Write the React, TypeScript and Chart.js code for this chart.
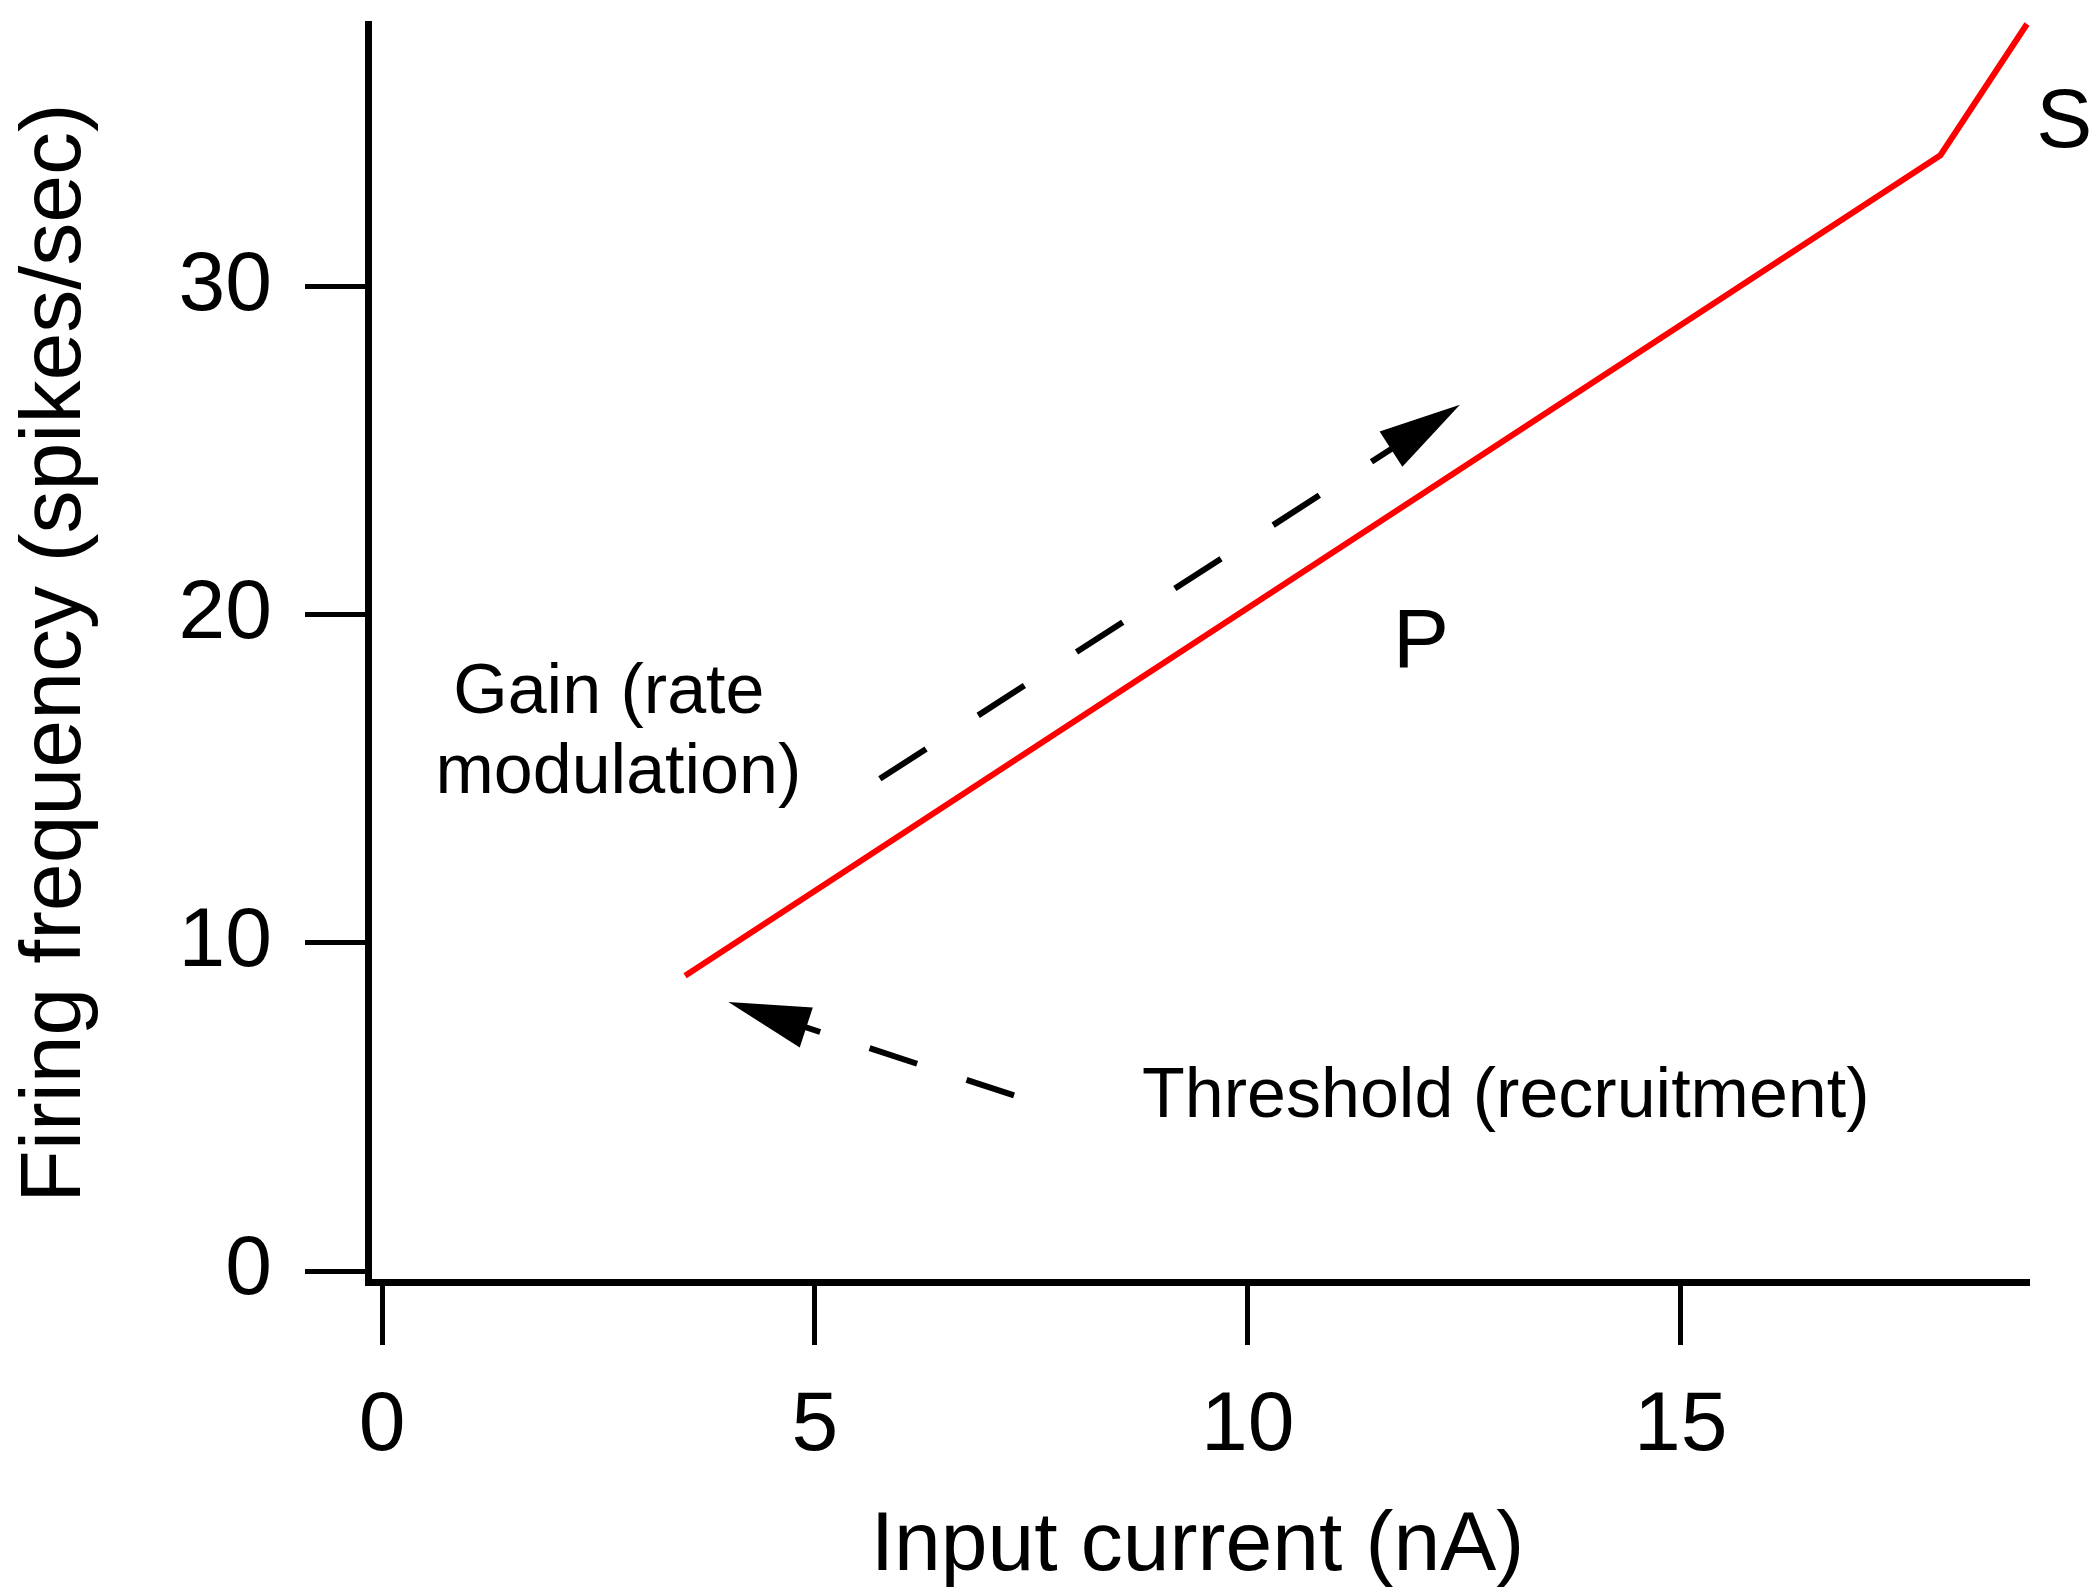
import React, { useEffect, useRef } from "react";
import { Chart, registerables } from "chart.js";

Chart.register(...registerables);

// ---- data ----
const inputCurrent = [3.5, 18, 19];
const firingFrequency = [9, 34, 38];

const gainArrowX = [5.75, 12.45];
const gainArrowY = [15.0, 26.4];
const thresholdArrowX = [7.3, 4.0];
const thresholdArrowY = [5.35, 8.2];

const xTickValues = [0, 5, 10, 15];
const yTickValues = [0, 10, 20, 30];

const xAxisTitle = "Input current (nA)";
const yAxisTitle = "Firing frequency (spikes/sec)";
const gainLabel = ["Gain (rate", "modulation)"];
const thresholdLabel = "Threshold (recruitment)";
const labelP = "P";
const labelS = "S";

const FONT = '"Liberation Sans", Arial, sans-serif';

const toPoints = (xs: number[], ys: number[]) => xs.map((x, i) => ({ x, y: ys[i] }));

const annotationPlugin = {
  id: "annotations",
  afterDatasetsDraw(chart: any) {
    const { ctx, scales } = chart;
    const xs = scales.x;
    const ys = scales.y;
    ctx.save();
    // arrowheads
    chart.data.datasets.forEach((ds: any, i: number) => {
      if (!ds.arrowHead) return;
      const pts = chart.getDatasetMeta(i).data;
      const a = pts[pts.length - 2];
      const b = pts[pts.length - 1];
      const dx = b.x - a.x;
      const dy = b.y - a.y;
      const len = Math.hypot(dx, dy);
      const ux = dx / len;
      const uy = dy / len;
      const L = 82;
      const W = 21;
      const bx = b.x - ux * L;
      const by = b.y - uy * L;
      ctx.beginPath();
      ctx.moveTo(b.x, b.y);
      ctx.lineTo(bx - uy * W, by + ux * W);
      ctx.lineTo(bx + uy * W, by - ux * W);
      ctx.closePath();
      ctx.fillStyle = "#000";
      ctx.fill();
    });
    // texts
    ctx.fillStyle = "#000";
    ctx.textAlign = "center";
    ctx.textBaseline = "middle";
    ctx.font = `70px ${FONT}`;
    ctx.fillText(gainLabel[0], xs.getPixelForValue(2.62), ys.getPixelForValue(17.58));
    ctx.fillText(gainLabel[1], xs.getPixelForValue(2.73), ys.getPixelForValue(15.17));
    ctx.fillText(thresholdLabel, xs.getPixelForValue(12.98), ys.getPixelForValue(5.27));
    ctx.font = `84px ${FONT}`;
    ctx.fillText(labelP, xs.getPixelForValue(12.0), ys.getPixelForValue(19.1));
    ctx.fillText(labelS, xs.getPixelForValue(19.43), ys.getPixelForValue(34.95));
    ctx.restore();
  },
};

export default function App() {
  const ref = useRef<HTMLCanvasElement | null>(null);

  useEffect(() => {
    if (!ref.current) return;
    const chart = new Chart(ref.current, {
      type: "scatter",
      data: {
        datasets: [
          {
            data: toPoints(inputCurrent, firingFrequency),
            showLine: true,
            borderColor: "#ff0000",
            borderWidth: 6,
            pointRadius: 0,
            clip: false,
          } as any,
          {
            data: toPoints(gainArrowX, gainArrowY),
            showLine: true,
            borderColor: "#000",
            borderWidth: 6,
            borderDash: [55, 62],
            borderCapStyle: "butt",
            pointRadius: 0,
            arrowHead: true,
          } as any,
          {
            data: toPoints(thresholdArrowX, thresholdArrowY),
            showLine: true,
            borderColor: "#000",
            borderWidth: 6,
            borderDash: [50, 52],
            borderCapStyle: "butt",
            pointRadius: 0,
            arrowHead: true,
          } as any,
        ],
      },
      options: {
        animation: false,
        responsive: false,
        devicePixelRatio: 1,
        layout: { padding: { top: 24, right: 73, left: 0, bottom: 0 } },
        plugins: {
          legend: { display: false },
          tooltip: { enabled: false },
        },
        scales: {
          x: {
            type: "linear",
            min: -0.162,
            max: 19,
            afterFit: (s: any) => {
              s.height = 311;
              s.paddingLeft = 0;
              s.paddingRight = 0;
            },
            afterBuildTicks: (s: any) => {
              s.ticks = xTickValues.map((value) => ({ value }));
            },
            border: { display: true, color: "#000", width: 7 },
            grid: {
              display: true,
              drawOnChartArea: false,
              drawTicks: true,
              tickLength: 63,
              tickWidth: 5,
              tickColor: "#000",
              lineWidth: 5,
              color: "#000",
            },
            ticks: {
              autoSkip: false,
              maxRotation: 0,
              padding: 31,
              color: "#000",
              font: { family: FONT, size: 84 },
            },
            title: {
              display: true,
              text: xAxisTitle,
              color: "#000",
              font: { family: FONT, size: 84, lineHeight: 1 },
              padding: { top: 0, bottom: 4 },
            },
          },
          y: {
            type: "linear",
            min: -0.334,
            max: 38,
            afterFit: (s: any) => {
              s.width = 368;
              s.paddingTop = 0;
              s.paddingBottom = 0;
            },
            afterBuildTicks: (s: any) => {
              s.ticks = yTickValues.map((value) => ({ value }));
            },
            border: { display: true, color: "#000", width: 7 },
            grid: {
              display: true,
              drawOnChartArea: false,
              drawTicks: true,
              tickLength: 63,
              tickWidth: 5,
              tickColor: "#000",
              lineWidth: 5,
              color: "#000",
            },
            ticks: {
              autoSkip: false,
              padding: 33,
              color: "#000",
              font: { family: FONT, size: 84 },
            },
            title: {
              display: true,
              text: yAxisTitle,
              color: "#000",
              font: { family: FONT, size: 86, lineHeight: 1 },
              padding: { top: 13, bottom: 0 },
            },
          },
        },
      } as any,
      plugins: [annotationPlugin],
    });
    return () => chart.destroy();
  }, []);

  return (
    <div style={{ position: "fixed", left: 0, top: 0, width: 2100, height: 1593, background: "#fff" }}>
      <canvas ref={ref} width={2100} height={1593} style={{ width: 2100, height: 1593, display: "block" }} />
    </div>
  );
}
